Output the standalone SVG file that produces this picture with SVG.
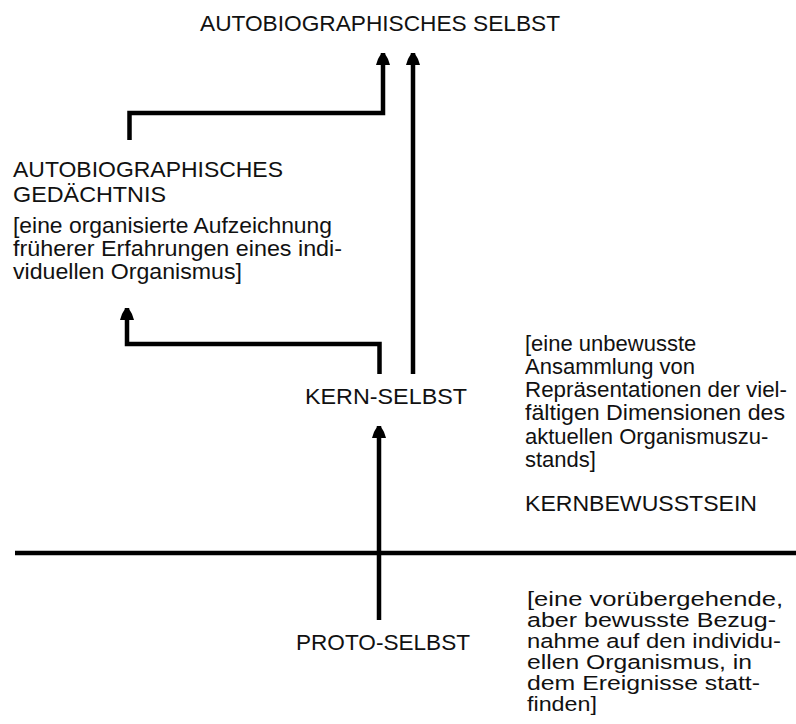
<svg xmlns="http://www.w3.org/2000/svg" width="796" height="724" viewBox="0 0 796 724">
<style>
text{font-family:"Liberation Sans",Arial,sans-serif;font-size:22px;fill:#111}
.s{font-size:20.5px}
.c{fill:none;stroke:#000;stroke-width:4.5}
</style>
<defs>
<marker id="ah" markerUnits="userSpaceOnUse" markerWidth="14" markerHeight="16" viewBox="0 -8 14 16" refX="12" refY="0" orient="auto">
<path d="M0,-7 L6,-5 Q12,-2 12,0 Q12,2 6,5 L0,7 Z" fill="#000"/>
</marker>
</defs>
<rect width="796" height="724" fill="#fff"/>
<g id="title"><text x="200" y="31" textLength="360" lengthAdjust="spacingAndGlyphs">AUTOBIOGRAPHISCHES SELBST</text></g>
<g id="gedaechtnis">
<text x="13" y="177" textLength="270" lengthAdjust="spacingAndGlyphs">AUTOBIOGRAPHISCHES</text>
<text x="13" y="202" textLength="153" lengthAdjust="spacingAndGlyphs">GEDÄCHTNIS</text>
<text x="13" y="233" textLength="319" lengthAdjust="spacingAndGlyphs">[eine organisierte Aufzeichnung</text>
<text x="13" y="256" textLength="329" lengthAdjust="spacingAndGlyphs">früherer Erfahrungen eines indi-</text>
<text x="13" y="279" textLength="229" lengthAdjust="spacingAndGlyphs">viduellen Organismus]</text>
</g>
<g id="kern-selbst"><text x="305" y="404" textLength="162" lengthAdjust="spacingAndGlyphs">KERN-SELBST</text></g>
<g id="kernbewusstsein">
<text x="525" y="351">[eine unbewusste</text>
<text x="525" y="374">Ansammlung von</text>
<text x="525" y="397" textLength="262" lengthAdjust="spacingAndGlyphs">Repräsentationen der viel-</text>
<text x="525" y="420" textLength="260" lengthAdjust="spacingAndGlyphs">fältigen Dimensionen des</text>
<text x="525" y="444">aktuellen Organismuszu-</text>
<text x="525" y="467">stands]</text>
<text x="525" y="511" textLength="232" lengthAdjust="spacingAndGlyphs">KERNBEWUSSTSEIN</text>
</g>
<g id="proto-selbst">
<text x="296" y="650" textLength="174" lengthAdjust="spacingAndGlyphs">PROTO-SELBST</text>
<text class="s" x="527" y="606" textLength="256" lengthAdjust="spacingAndGlyphs">[eine vorübergehende,</text>
<text class="s" x="527" y="627" textLength="249" lengthAdjust="spacingAndGlyphs">aber bewusste Bezug-</text>
<text class="s" x="527" y="648" textLength="254" lengthAdjust="spacingAndGlyphs">nahme auf den individu-</text>
<text class="s" x="527" y="669" textLength="225" lengthAdjust="spacingAndGlyphs">ellen Organismus, in</text>
<text class="s" x="527" y="690" textLength="233" lengthAdjust="spacingAndGlyphs">dem Ereignisse statt-</text>
<text class="s" x="527" y="711" textLength="70" lengthAdjust="spacingAndGlyphs">finden]</text>
</g>
<g id="divider"><path class="c" d="M15,553 H796"/></g>
<g id="connectors">
<path class="c" marker-end="url(#ah)" d="M129.5,140 V113 H383 V53"/>
<path class="c" marker-end="url(#ah)" d="M413,374 V53"/>
<path class="c" marker-end="url(#ah)" d="M379.5,374 V344 H127 V308"/>
<path class="c" marker-end="url(#ah)" d="M379,620 V426"/>
</g>
</svg>
